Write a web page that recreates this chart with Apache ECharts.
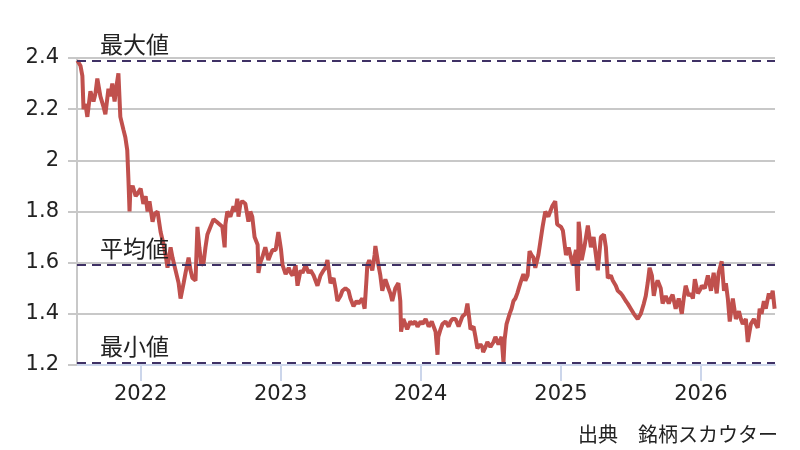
<!DOCTYPE html>
<html>
<head>
<meta charset="utf-8"/>
<title>株価推移</title>
<script src="https://cdn.jsdelivr.net/npm/echarts@6.0.0/dist/echarts.min.js"></script>
<style>
  html, body { margin: 0; padding: 0; background: #fff; }
  #main { width: 800px; height: 450px; }
</style>
</head>
<body>
<div id="main"></div>
<script type="text/javascript">
    // 日付と終値
    var dates = [
        '2021-07-20','2021-07-28','2021-08-02','2021-08-05','2021-08-10','2021-08-15','2021-08-23','2021-08-31',
        '2021-09-05','2021-09-10','2021-09-18','2021-09-26','2021-10-01','2021-10-09','2021-10-14','2021-10-19',
        '2021-10-25','2021-10-30','2021-11-04','2021-11-09','2021-11-17','2021-11-22','2021-11-27','2021-11-30',
        '2021-12-03','2021-12-05','2021-12-11','2021-12-19','2021-12-24',
        '2022-01-01','2022-01-08','2022-01-14','2022-01-19','2022-01-24','2022-02-01','2022-02-06','2022-02-14',
        '2022-02-22','2022-03-02','2022-03-07','2022-03-12','2022-03-20','2022-03-25','2022-04-02','2022-04-10',
        '2022-04-15','2022-04-23','2022-04-28','2022-05-06','2022-05-11','2022-05-16','2022-05-24','2022-05-29',
        '2022-06-03','2022-06-06','2022-06-08','2022-06-14','2022-06-19','2022-06-24','2022-07-02','2022-07-10',
        '2022-07-18','2022-07-23','2022-08-02','2022-08-08','2022-08-10','2022-08-15','2022-08-23','2022-08-31',
        '2022-09-05','2022-09-10','2022-09-13','2022-09-18','2022-09-23','2022-10-01','2022-10-09','2022-10-14',
        '2022-10-19','2022-10-25','2022-11-02','2022-11-04','2022-11-09','2022-11-14','2022-11-22','2022-11-30',
        '2022-12-05','2022-12-11','2022-12-19','2022-12-26',
        '2023-01-02','2023-01-06','2023-01-14','2023-01-22','2023-01-27','2023-02-01','2023-02-09','2023-02-14',
        '2023-02-22','2023-02-27','2023-03-07','2023-03-15','2023-03-20','2023-03-28','2023-04-07','2023-04-15',
        '2023-04-23','2023-04-28','2023-05-03','2023-05-11','2023-05-19','2023-05-24','2023-05-29','2023-06-06',
        '2023-06-11','2023-06-19','2023-06-27','2023-07-02','2023-07-10','2023-07-18','2023-07-23','2023-08-02',
        '2023-08-08','2023-08-13','2023-08-15','2023-08-20','2023-08-28','2023-09-03','2023-09-05','2023-09-13',
        '2023-09-18','2023-09-23','2023-10-01','2023-10-09','2023-10-14','2023-10-19','2023-10-27','2023-11-04',
        '2023-11-09','2023-11-11','2023-11-17','2023-11-22','2023-11-27','2023-12-05','2023-12-11','2023-12-18',
        '2023-12-24',
        '2024-01-01','2024-01-06','2024-01-14','2024-01-22','2024-01-30','2024-02-04','2024-02-09','2024-02-14',
        '2024-02-16','2024-02-22','2024-02-27','2024-03-06','2024-03-14','2024-03-19','2024-03-24','2024-04-01',
        '2024-04-09','2024-04-14','2024-04-19','2024-04-27','2024-05-02','2024-05-07','2024-05-10','2024-05-18',
        '2024-05-23','2024-05-28','2024-06-05','2024-06-10','2024-06-12','2024-06-18','2024-06-23','2024-07-01',
        '2024-07-09','2024-07-14','2024-07-22','2024-07-30','2024-08-01','2024-08-04','2024-08-07','2024-08-12',
        '2024-08-20','2024-08-25','2024-08-30','2024-09-04','2024-09-09','2024-09-17','2024-09-25','2024-09-30',
        '2024-10-06','2024-10-11','2024-10-16','2024-10-21','2024-10-26','2024-11-03','2024-11-08','2024-11-14',
        '2024-11-21','2024-11-29','2024-12-04','2024-12-09','2024-12-17','2024-12-22',
        '2025-01-01','2025-01-06','2025-01-14','2025-01-21','2025-01-27','2025-02-01','2025-02-09','2025-02-11',
        '2025-02-14','2025-02-16','2025-02-19','2025-02-24','2025-03-04','2025-03-12','2025-03-20','2025-03-27',
        '2025-04-02','2025-04-07','2025-04-15','2025-04-23','2025-04-28','2025-05-03','2025-05-11','2025-05-16',
        '2025-05-24','2025-05-29','2025-06-06','2025-06-11','2025-06-19','2025-06-24','2025-07-02','2025-07-10',
        '2025-07-15','2025-07-20','2025-07-28','2025-08-05','2025-08-10','2025-08-15','2025-08-20','2025-08-26',
        '2025-08-31','2025-09-05','2025-09-10','2025-09-18','2025-09-23','2025-10-01','2025-10-09','2025-10-14',
        '2025-10-19','2025-10-27','2025-11-04','2025-11-12','2025-11-17','2025-11-22','2025-11-30','2025-12-05',
        '2025-12-11','2025-12-16','2025-12-24',
        '2026-01-01','2026-01-03','2026-01-11','2026-01-19','2026-01-27','2026-02-03','2026-02-11','2026-02-16',
        '2026-02-24','2026-03-02','2026-03-07','2026-03-12','2026-03-17','2026-03-25','2026-04-02','2026-04-10',
        '2026-04-15','2026-04-20','2026-04-28','2026-05-03','2026-05-11','2026-05-19','2026-05-24','2026-05-29',
        '2026-06-03','2026-06-08','2026-06-14','2026-06-19','2026-06-27','2026-07-02','2026-07-07','2026-07-12'
    ];
    var prices = [
        2.39, 2.37, 2.33, 2.20, 2.22, 2.17, 2.27, 2.23,
        2.26, 2.32, 2.25, 2.21, 2.18, 2.28, 2.25, 2.30,
        2.23, 2.29, 2.34, 2.17, 2.12, 2.09, 2.04, 1.93,
        1.80, 1.88, 1.90, 1.86, 1.87,
        1.89, 1.83, 1.86, 1.80, 1.84, 1.76, 1.79, 1.80,
        1.72, 1.67, 1.63, 1.58, 1.66, 1.62, 1.57, 1.52,
        1.46, 1.52, 1.56, 1.62, 1.57, 1.54, 1.53, 1.74,
        1.66, 1.62, 1.59, 1.60, 1.66, 1.71, 1.74, 1.77,
        1.76, 1.76, 1.74, 1.66, 1.75, 1.80, 1.78, 1.82,
        1.80, 1.85, 1.78, 1.83, 1.84, 1.83, 1.76, 1.80,
        1.78, 1.70, 1.67, 1.56, 1.60, 1.62, 1.66, 1.61,
        1.63, 1.65, 1.65, 1.72,
        1.65, 1.59, 1.555, 1.58, 1.56, 1.55, 1.59, 1.51,
        1.57, 1.56, 1.59, 1.56, 1.57, 1.55, 1.51, 1.55,
        1.57, 1.58, 1.61, 1.52, 1.54, 1.50, 1.45, 1.47,
        1.49, 1.50, 1.49, 1.46, 1.43, 1.45, 1.44, 1.46,
        1.42, 1.54, 1.59, 1.61, 1.57, 1.63, 1.665, 1.59,
        1.55, 1.49, 1.535, 1.50, 1.48, 1.45, 1.50, 1.52,
        1.45, 1.33, 1.38, 1.36, 1.34, 1.37, 1.36, 1.37,
        1.35,
        1.37, 1.36, 1.38, 1.35, 1.37, 1.35, 1.33, 1.24,
        1.31, 1.34, 1.36, 1.37, 1.35, 1.37, 1.38, 1.38,
        1.35, 1.37, 1.39, 1.40, 1.44, 1.38, 1.34, 1.35,
        1.31, 1.265, 1.28, 1.27, 1.25, 1.27, 1.29, 1.27,
        1.29, 1.31, 1.28, 1.31, 1.27, 1.21, 1.30, 1.36,
        1.40, 1.42, 1.45, 1.46, 1.48, 1.52, 1.555, 1.53,
        1.55, 1.645, 1.63, 1.62, 1.58, 1.63, 1.68, 1.74,
        1.80, 1.78, 1.80, 1.82, 1.84, 1.75,
        1.74, 1.725, 1.63, 1.66, 1.62, 1.59, 1.65, 1.56,
        1.49, 1.76, 1.72, 1.61, 1.67, 1.745, 1.66, 1.70,
        1.63, 1.57, 1.70, 1.71, 1.66, 1.54, 1.55, 1.53,
        1.51, 1.49, 1.48, 1.47, 1.45, 1.44, 1.42, 1.40,
        1.40, 1.38, 1.40, 1.44, 1.47, 1.52, 1.58, 1.55,
        1.47, 1.51, 1.53, 1.50, 1.44, 1.47, 1.44, 1.46,
        1.475, 1.42, 1.46, 1.40, 1.46, 1.51, 1.47, 1.48,
        1.46, 1.535, 1.48,
        1.50, 1.51, 1.50, 1.55, 1.49, 1.56, 1.48, 1.56,
        1.605, 1.49, 1.52, 1.46, 1.37, 1.46, 1.38, 1.41,
        1.38, 1.36, 1.38, 1.29, 1.36, 1.38, 1.36, 1.345,
        1.42, 1.40, 1.45, 1.42, 1.48, 1.46, 1.49, 1.42
    ];
    // 最大値・平均値・最小値の破線
    var refNames = ['最大値', '平均値', '最小値'];
    var refValues = [2.39, 1.59, 1.21];
    // 横軸の年ラベル
    var yearTicks = ['2022-01-01', '2023-01-01', '2024-01-01', '2025-01-01', '2026-01-01'];
    var xRange = ['2021-07-19', '2026-07-13'];

    var FONT = '"Noto Sans CJK JP", "Noto Sans", sans-serif';
    var NUM_FONT = '"DejaVu Sans", sans-serif';

    function toTime(s) {
        return +echarts.time.parse(s);
    }

    var myChart = echarts.init(document.getElementById('main'));

    var lineData = [];
    for (var i = 0; i < dates.length; i++) {
        lineData.push([toTime(dates[i]), prices[i]]);
    }
    var yearValues = yearTicks.map(toTime);

    var refLines = [];
    for (var j = 0; j < refValues.length; j++) {
        refLines.push({ yAxis: refValues[j], name: refNames[j], label: { formatter: refNames[j] } });
    }

    var option = {
        animation: false,
        textStyle: { fontFamily: FONT },
        grid: { left: 77, right: 25, top: 58, bottom: 85 },
        xAxis: {
            type: 'value',
            min: toTime(xRange[0]),
            max: toTime(xRange[1]),
            axisLine: { lineStyle: { color: '#ccd6eb', width: 2 } },
            axisTick: { customValues: yearValues, length: 16, lineStyle: { color: '#ccd6eb', width: 2 } },
            axisLabel: {
                customValues: yearValues,
                formatter: function (v) { return String(new Date(v).getFullYear()); },
                fontSize: 21, color: '#222', margin: 19, fontFamily: NUM_FONT
            },
            splitLine: { show: false }
        },
        yAxis: {
            type: 'value',
            min: 1.2,
            max: 2.4,
            interval: 0.2,
            axisLine: { show: true, lineStyle: { color: '#c8c8c8', width: 2 } },
            axisTick: { show: true, length: 9, lineStyle: { color: '#c8c8c8', width: 2 } },
            axisLabel: {
                formatter: function (v) { return String(+v.toFixed(1)); },
                fontSize: 21, color: '#222', margin: 18, fontFamily: NUM_FONT
            },
            splitLine: { lineStyle: { color: '#c8c8c8', width: 2 } }
        },
        series: [{
            type: 'line',
            data: lineData,
            showSymbol: false,
            lineStyle: { color: '#c0504d', width: 4 },
            markLine: {
                silent: true,
                symbol: 'none',
                lineStyle: { type: [9, 6], color: '#3f3165', width: 2 },
                label: { position: 'insideStartTop', distance: [23, 5], fontSize: 23, color: '#222', fontFamily: FONT },
                data: refLines
            }
        }],
        graphic: [{
            type: 'text',
            right: 22,
            bottom: 6,
            style: { text: '出典　銘柄スカウター', fontSize: 20, fill: '#222', fontFamily: FONT }
        }]
    };

    myChart.setOption(option);
</script>
</body>
</html>
